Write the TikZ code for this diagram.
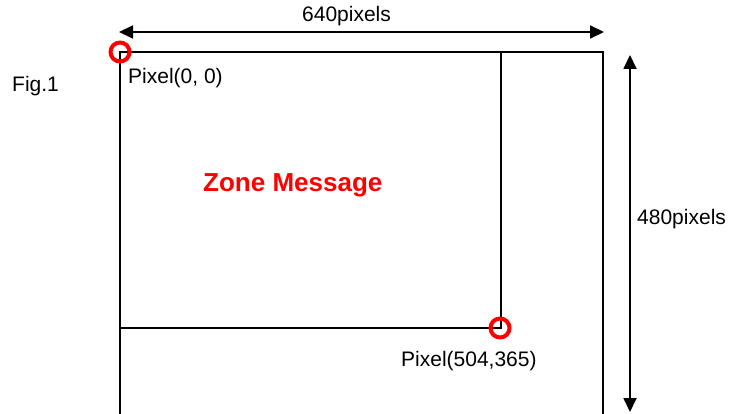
\documentclass[tikz,border=0pt]{standalone}
\usepackage{fontspec}
\setmainfont{Liberation Sans}
\usetikzlibrary{arrows.meta}
\begin{document}
\begin{tikzpicture}[x=1pt,y=-1pt,
  lbl/.style={anchor=base west,inner sep=0pt,font=\fontsize{21}{25}\selectfont},
  zone/.style={anchor=base west,inner sep=0pt,text=red,font=\fontsize{26}{31}\selectfont\bfseries},
  frame/.style={draw=black,line width=2pt},
  dim/.style={draw=black,line width=1.8pt,{Triangle[length=14pt,width=13pt]}-{Triangle[length=14pt,width=13pt]}},
  marker/.style={draw=red,line width=4pt}]
\useasboundingbox (0,0) rectangle (736,414);
% corners
\coordinate (tl) at (120,52);
\coordinate (tr) at (603,52);
\coordinate (bl) at (120,416);
\coordinate (br) at (603,416);
\coordinate (it) at (501,52);
\coordinate (ib) at (501,328);
\coordinate (il) at (120,328);
% frames
\draw[frame] (bl) -- (tl) -- (tr) -- (br);
\draw[frame] (it) -- (ib) -- (il);
% dimension arrows
\coordinate (hl) at (119,32);
\coordinate (hr) at (604,32);
\coordinate (vt) at (630,55);
\coordinate (vb) at (630,412);
\draw[dim] (hl) -- (hr);
\draw[dim] (vt) -- (vb);
% markers
\draw[marker] (tl) circle (9.5);
\draw[marker] (500,328) circle (9.5);
% labels
\node[lbl] (w) at (302,22) {640pixels};
\node[lbl] (h) at (637,225) {480pixels};
\node[lbl] (fig) at (12,92) {Fig.1};
\node[lbl] (p0) at (128,84) {Pixel(0, 0)};
\node[lbl] (p1) at (401,366) {Pixel(504,365)};
\node[zone] (zm) at (203,192) {Zone Message};
\end{tikzpicture}
\end{document}
